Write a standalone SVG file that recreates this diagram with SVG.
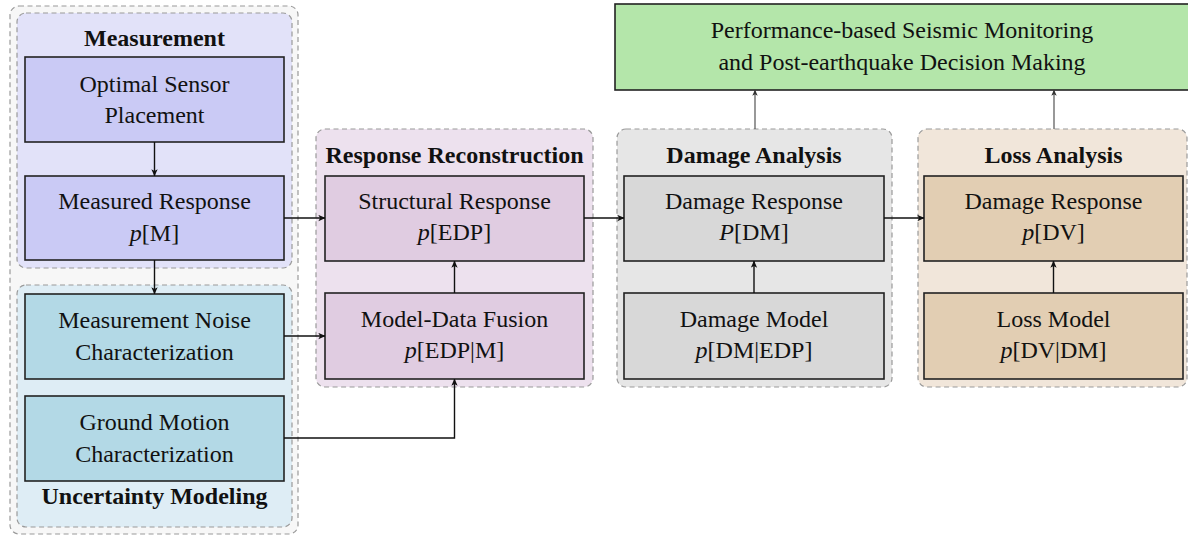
<svg xmlns="http://www.w3.org/2000/svg" width="1188" height="536" viewBox="0 0 1188 536">
  <style>
    .grp { stroke: #9a9a9a; stroke-width: 1.2; stroke-dasharray: 5 3.5; }
    .box { stroke: #222; stroke-width: 1.6; }
    .t { font-family: "Liberation Serif", "Times New Roman", serif; font-size: 24px; fill: #111; text-anchor: middle; }
    .h { font-weight: bold; }
    .i { font-style: italic; }
    .con { fill: none; stroke: #111; stroke-width: 1.4; }
    .con2 { fill: none; stroke: #444; stroke-width: 1.1; }
  </style>
  <defs>
    <marker id="ah" viewBox="0 0 10 10" refX="9.5" refY="5" markerWidth="7" markerHeight="7" markerUnits="userSpaceOnUse" orient="auto">
      <path d="M0,0.5 L10,5 L0,9.5 L2.5,5 Z" fill="#111"/>
    </marker>
    <marker id="ah2" viewBox="0 0 10 10" refX="9.5" refY="5" markerWidth="6" markerHeight="6" markerUnits="userSpaceOnUse" orient="auto">
      <path d="M0,0.5 L10,5 L0,9.5 L2.5,5 Z" fill="#333"/>
    </marker>
  </defs>

  <rect width="1188" height="536" fill="#ffffff"/>

  <!-- input side: measurement + uncertainty modelling -->
  <g id="input-stage">
    <rect class="grp" x="10" y="6" width="288" height="528" rx="9" fill="#f7f7f7"/>
  </g>

  <g id="measurement">
    <rect class="grp" x="17" y="13" width="275" height="255" rx="9" fill="#e2e2f9"/>
    <text class="t h" x="154.5" y="46">Measurement</text>
  </g>
  <g id="sensor-placement">
    <rect class="box" x="25" y="57" width="259" height="85" fill="#cacaf5"/>
    <text class="t" x="154.5" y="92">Optimal Sensor</text>
    <text class="t" x="154.5" y="123">Placement</text>
  </g>
  <g id="measured-response">
    <rect class="box" x="25" y="176" width="259" height="84" fill="#cacaf5"/>
    <text class="t" x="154.5" y="209">Measured Response</text>
    <text class="t" x="154.5" y="241"><tspan class="i">p</tspan>[M]</text>
  </g>

  <g id="uncertainty-modeling">
    <rect class="grp" x="17" y="285" width="275" height="242" rx="9" fill="#deedf5"/>
    <text class="t h" x="154.5" y="504">Uncertainty Modeling</text>
  </g>
  <g id="noise-characterization">
    <rect class="box" x="25" y="294" width="259" height="85" fill="#b3d9e6"/>
    <text class="t" x="154.5" y="328">Measurement Noise</text>
    <text class="t" x="154.5" y="360">Characterization</text>
  </g>
  <g id="ground-motion">
    <rect class="box" x="25" y="396" width="259" height="85" fill="#b3d9e6"/>
    <text class="t" x="154.5" y="430">Ground Motion</text>
    <text class="t" x="154.5" y="462">Characterization</text>
  </g>

  <!-- response reconstruction -->
  <g id="response-reconstruction">
    <rect class="grp" x="316" y="129" width="277" height="258" rx="9" fill="#ede1ee"/>
    <text class="t h" x="454.5" y="163">Response Reconstruction</text>
  </g>
  <g id="structural-response">
    <rect class="box" x="325" y="176" width="259" height="85" fill="#e0cce1"/>
    <text class="t" x="454.5" y="209">Structural Response</text>
    <text class="t" x="454.5" y="240"><tspan class="i">p</tspan>[EDP]</text>
  </g>
  <g id="model-data-fusion">
    <rect class="box" x="325" y="293" width="259" height="86" fill="#e0cce1"/>
    <text class="t" x="454.5" y="327">Model-Data Fusion</text>
    <text class="t" x="454.5" y="358"><tspan class="i">p</tspan>[EDP|M]</text>
  </g>

  <!-- damage analysis -->
  <g id="damage-analysis">
    <rect class="grp" x="617" y="129" width="275" height="258" rx="9" fill="#e6e6e6"/>
    <text class="t h" x="754" y="163">Damage Analysis</text>
  </g>
  <g id="damage-response">
    <rect class="box" x="624" y="176" width="260" height="85" fill="#d8d8d8"/>
    <text class="t" x="754" y="209">Damage Response</text>
    <text class="t" x="754" y="240"><tspan class="i">P</tspan>[DM]</text>
  </g>
  <g id="damage-model">
    <rect class="box" x="624" y="293" width="260" height="86" fill="#d8d8d8"/>
    <text class="t" x="754" y="327">Damage Model</text>
    <text class="t" x="754" y="358"><tspan class="i">p</tspan>[DM|EDP]</text>
  </g>

  <!-- loss analysis -->
  <g id="loss-analysis">
    <rect class="grp" x="918" y="129" width="269" height="258" rx="9" fill="#f1e6da"/>
    <text class="t h" x="1053.5" y="163">Loss Analysis</text>
  </g>
  <g id="loss-response">
    <rect class="box" x="924" y="176" width="259" height="85" fill="#e2ceb3"/>
    <text class="t" x="1053.5" y="209">Damage Response</text>
    <text class="t" x="1053.5" y="240"><tspan class="i">p</tspan>[DV]</text>
  </g>
  <g id="loss-model">
    <rect class="box" x="924" y="293" width="259" height="86" fill="#e2ceb3"/>
    <text class="t" x="1053.5" y="327">Loss Model</text>
    <text class="t" x="1053.5" y="358"><tspan class="i">p</tspan>[DV|DM]</text>
  </g>

  <!-- decision making -->
  <g id="decision-making">
    <rect class="box" x="615" y="4" width="576" height="86" fill="#b4e6aa"/>
    <text class="t" x="902" y="38">Performance-based Seismic Monitoring</text>
    <text class="t" x="902" y="70">and Post-earthquake Decision Making</text>
  </g>

  <!-- connectors -->
  <g id="connectors">
    <path class="con" d="M154.5,142 V176" marker-end="url(#ah)"/>
    <path class="con" d="M154.5,260 V294" marker-end="url(#ah)"/>
    <path class="con" d="M284,218 H325" marker-end="url(#ah)"/>
    <path class="con" d="M284,336 H325" marker-end="url(#ah)"/>
    <path class="con" d="M284,438 H454.5 V379" marker-end="url(#ah)"/>
    <path class="con" d="M454.5,293 V261" marker-end="url(#ah)"/>
    <path class="con" d="M584,218 H624" marker-end="url(#ah)"/>
    <path class="con" d="M754,293 V261" marker-end="url(#ah)"/>
    <path class="con" d="M884,218 H924" marker-end="url(#ah)"/>
    <path class="con" d="M1053.5,293 V261" marker-end="url(#ah)"/>
    <path class="con2" d="M755,129 V90" marker-end="url(#ah2)"/>
    <path class="con2" d="M1054,129 V90" marker-end="url(#ah2)"/>
  </g>
</svg>
